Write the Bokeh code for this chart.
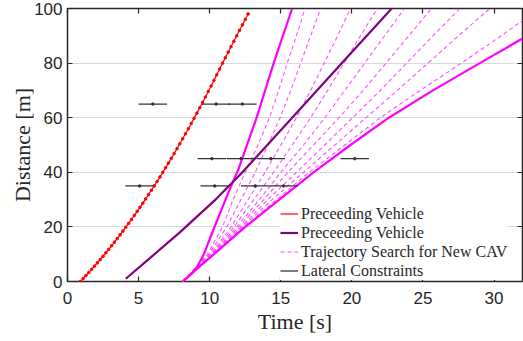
from bokeh.plotting import figure
from bokeh.models import Range1d, LinearAxis, FixedTicker, Legend, LegendItem, ColumnDataSource
from bokeh.embed import file_html
from bokeh.resources import INLINE

# ---------------- data ----------------
x_ticks = [0, 5, 10, 15, 20, 25, 30]
y_ticks = [0, 20, 40, 60, 80, 100]
grid_ticks = [20, 40, 60, 80]

# preceding vehicle 1 (red, dotted markers)
red_t = [0.9, 1.1, 1.3, 1.5, 1.7, 1.9, 2.1, 2.3, 2.5, 2.7,
         2.9, 3.1, 3.3, 3.5, 3.7, 3.9, 4.1, 4.3, 4.5, 4.7,
         4.9, 5.1, 5.3, 5.5, 5.7, 5.9, 6.1, 6.3, 6.5, 6.7,
         6.9, 7.1, 7.3, 7.5, 7.7, 7.9, 8.1, 8.3, 8.5, 8.7,
         8.9, 9.1, 9.3, 9.5, 9.7, 9.9, 10.1, 10.3, 10.5, 10.7,
         10.9, 11.1, 11.3, 11.5, 11.7, 11.9, 12.1, 12.3, 12.5, 12.7]
red_d = [0.00, 1.08, 2.19, 3.32, 4.46, 5.63, 6.82, 8.03, 9.26, 10.52,
         11.79, 13.08, 14.40, 15.74, 17.09, 18.47, 19.87, 21.29, 22.73, 24.20,
         25.68, 27.18, 28.71, 30.26, 31.82, 33.41, 35.02, 36.65, 38.30, 39.98,
         41.67, 43.38, 45.12, 46.88, 48.65, 50.45, 52.27, 54.11, 55.97, 57.86,
         59.76, 61.68, 63.63, 65.60, 67.58, 69.59, 71.62, 73.67, 75.74, 77.84,
         79.95, 82.0, 84.0, 86.0, 88.0, 90.0, 92.0, 94.0, 96.0, 98.0]

# preceding vehicle 2 (purple)
pur_t = [4.1, 6.0, 7.9, 10.35, 12.3, 15.8, 19.3, 22.8]
pur_d = [1.0, 9.5, 18.0, 29.7, 40.0, 60.0, 80.0, 100.0]

# bounds of trajectory search (solid magenta)
lo_t = [8.1, 8.6, 9.1, 9.55, 10.3, 11.0, 11.55, 12.05, 13.3, 14.5, 15.8]
lo_d = [0, 2.2, 5.2, 9.5, 19.5, 28.5, 35.5, 41.5, 60, 80, 100]
hi_t = [8.1, 8.75, 9.4, 10.3, 12.5, 14.9, 17.3, 19.9, 22.6, 25.7, 29.0, 32.0]
hi_d = [0, 3, 6, 10, 20, 30, 40, 50, 60, 70, 80, 89]

# trajectory search candidates (dashed magenta), sampled at search_d
search_d = [0, 10, 20, 30, 40, 50, 60, 70, 80, 90, 100]
search_1 = [8.1, 9.85, 10.9, 11.65, 12.5, 13.4, 14.2, 14.85, 15.45, 16.1, 16.7]
search_2 = [8.1, 9.95, 11.2, 12.2, 13.2, 14.1, 14.95, 15.7, 16.4, 17.1, 17.8]
search_3 = [8.1, 10.05, 11.5, 12.7, 13.9, 15.0, 16.1, 17.1, 18.05, 19.0, 19.9]
search_4 = [8.1, 10.1, 11.7, 13.1, 14.5, 15.8, 17.1, 18.3, 19.45, 20.6, 21.8]
search_5 = [8.1, 10.15, 11.9, 13.5, 15.0, 16.6, 18.1, 19.5, 20.9, 22.3, 23.7]
search_6 = [8.1, 10.2, 12.05, 13.8, 15.5, 17.3, 19.1, 20.8, 22.4, 24.0, 25.6]
search_7 = [8.1, 10.22, 12.2, 14.1, 16.1, 18.1, 20.05, 22.0, 23.85, 25.7, 27.6]
search_8 = [8.1, 10.25, 12.3, 14.4, 16.6, 18.8, 21.0, 23.2, 25.35, 27.5, 29.7]
search_9 = [8.1, 10.28, 12.4, 14.7, 17.0, 19.5, 22.0, 24.8, 27.7, 30.5, 33.2]
searches = [search_1, search_2, search_3, search_4, search_5,
            search_6, search_7, search_8, search_9]

# lateral constraints: centre time, distance, half width
lat_t = [6.0, 10.45, 12.3, 10.15, 12.2, 14.3, 20.2, 5.07, 10.35, 13.2, 15.2]
lat_d = [65, 65, 65, 45, 45, 45, 45, 35, 35, 35, 35]
lat_half = 1.0

TXT = "#262626"
SERIF = "Liberation Serif"
SANS = "Liberation Sans"

# ---------------- figure ----------------
p = figure(width=523, height=341, x_range=Range1d(0, 32), y_range=Range1d(0, 100),
           output_backend="svg", toolbar_location=None,
           min_border_left=67, min_border_right=1, min_border_top=8, min_border_bottom=60)
p.background_fill_color = "white"
p.outline_line_color = TXT
p.outline_line_width = 1.5

p.xgrid.visible = False
p.ygrid.ticker = FixedTicker(ticks=grid_ticks)
p.ygrid.grid_line_color = "#d9d9d9"
p.ygrid.grid_line_width = 1.2

for ax, ticks in ((p.xaxis, x_ticks), (p.yaxis, y_ticks)):
    ax.ticker = FixedTicker(ticks=ticks)
    ax.major_tick_in = 5
    ax.major_tick_out = 0
    ax.major_tick_line_color = TXT
    ax.major_tick_line_width = 1.2
    ax.minor_tick_line_color = None
    ax.axis_line_color = None
    ax.major_label_text_font = SANS
    ax.major_label_text_font_size = "17px"
    ax.major_label_text_color = TXT
    ax.axis_label_text_font = SERIF
    ax.axis_label_text_font_size = "22px"
    ax.axis_label_text_font_style = "normal"
    ax.axis_label_text_color = TXT

p.xaxis.axis_label = "Time [s]"
p.yaxis.axis_label = "Distance [m]"
p.xaxis.major_label_standoff = 10
p.xaxis.axis_label_standoff = 2
p.yaxis.major_label_standoff = 5
p.yaxis.axis_label_standoff = -4

# mirrored ticks on top and right
for loc, ticks in (("above", x_ticks), ("right", y_ticks)):
    a = LinearAxis(ticker=FixedTicker(ticks=ticks),
                   major_label_overrides={t: "" for t in ticks},
                   major_label_standoff=0, major_tick_in=5, major_tick_out=0,
                   major_tick_line_color=TXT, major_tick_line_width=1.2,
                   minor_tick_line_color=None, axis_line_color=None)
    p.add_layout(a, loc)

# dashed candidate trajectories
dash_renderers = []
for s in searches:
    r = p.line(s, search_d, line_color="#ff4dff", line_width=1.1, line_dash="4 3")
    dash_renderers.append(r)

# bounds
p.line(lo_t, lo_d, line_color="#ff00ff", line_width=2.2)
p.line(hi_t, hi_d, line_color="#ff00ff", line_width=2.2)

# preceding vehicles
r_pur = p.line(pur_t, pur_d, line_color="#800080", line_width=2.2)
r_red = p.line(red_t, red_d, line_color="#ff0000", line_width=1.2)
p.scatter(red_t, red_d, marker="circle", size=2.6,
          fill_color="#ff0000", line_color="#ff0000")

# lateral constraints
lat_src = ColumnDataSource(dict(
    x0=[t - lat_half for t in lat_t], x1=[t + lat_half for t in lat_t],
    xc=lat_t, y=lat_d))
r_lat = p.segment(x0="x0", y0="y", x1="x1", y1="y", source=lat_src,
                  line_color="#333333", line_width=1.3)
p.scatter(x="xc", y="y", source=lat_src, marker="circle", size=2.5,
          fill_color="#333333", line_color="#333333")

legend = Legend(items=[
    LegendItem(label="Preceeding Vehicle", renderers=[r_red]),
    LegendItem(label="Preceeding Vehicle", renderers=[r_pur]),
    LegendItem(label="Trajectory Search for New CAV", renderers=[dash_renderers[0]]),
    LegendItem(label="Lateral Constraints", renderers=[r_lat]),
], location=(213, 1))
legend.background_fill_color = "white"
legend.background_fill_alpha = 1.0
legend.border_line_color = None
legend.padding = 2
legend.spacing = 0
legend.margin = 0
legend.glyph_width = 18
legend.glyph_height = 19
legend.label_height = 19
legend.label_standoff = 3
legend.label_text_font = SERIF
legend.label_text_font_size = "16px"
legend.label_text_color = TXT
p.add_layout(legend)

open("out.html", "w").write(file_html(p, INLINE))
